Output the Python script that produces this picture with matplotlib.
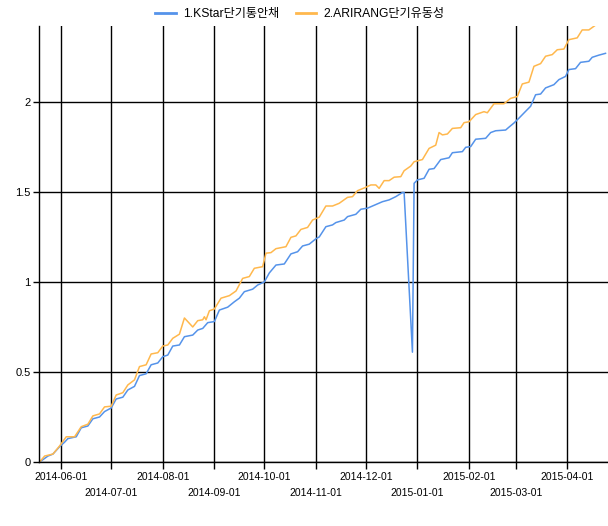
import matplotlib
matplotlib.use("Agg")
import matplotlib.pyplot as plt
import pandas as pd

plt.rcParams['font.family'] = ['Liberation Sans', 'Noto Sans CJK KR', 'DejaVu Sans']

kstar_dates = [
    "2014-05-19", "2014-05-24", "2014-05-27", "2014-05-31", "2014-06-03", "2014-06-05",
    "2014-06-10", "2014-06-13", "2014-06-17", "2014-06-20", "2014-06-24", "2014-06-27",
    "2014-07-01", "2014-07-04", "2014-07-08", "2014-07-11", "2014-07-15", "2014-07-18",
    "2014-07-22", "2014-07-25", "2014-07-29", "2014-08-01", "2014-08-04", "2014-08-07",
    "2014-08-11", "2014-08-14", "2014-08-19", "2014-08-22", "2014-08-25", "2014-08-28",
    "2014-09-01", "2014-09-04", "2014-09-09", "2014-09-13", "2014-09-16", "2014-09-19",
    "2014-09-24", "2014-09-27", "2014-10-01", "2014-10-04", "2014-10-08", "2014-10-13",
    "2014-10-17", "2014-10-21", "2014-10-24", "2014-10-28", "2014-11-01", "2014-11-03",
    "2014-11-07", "2014-11-11", "2014-11-13", "2014-11-18", "2014-11-20", "2014-11-25",
    "2014-11-28", "2014-12-02", "2014-12-05", "2014-12-11", "2014-12-15", "2014-12-19",
    "2014-12-23", "2014-12-24", "2014-12-29", "2014-12-30", "2015-01-01", "2015-01-05",
    "2015-01-08", "2015-01-11", "2015-01-15", "2015-01-20", "2015-01-22", "2015-01-28",
    "2015-01-30", "2015-02-02", "2015-02-05", "2015-02-11", "2015-02-14", "2015-02-17",
    "2015-02-23", "2015-02-25", "2015-02-28", "2015-03-03", "2015-03-07", "2015-03-10",
    "2015-03-13", "2015-03-16", "2015-03-19", "2015-03-24", "2015-03-27", "2015-03-31",
    "2015-04-02", "2015-04-06", "2015-04-09", "2015-04-14", "2015-04-16", "2015-04-20",
    "2015-04-24",
]
kstar = [
    0.0, 0.033, 0.044, 0.085, 0.11, 0.13,
    0.14, 0.19, 0.20, 0.24, 0.25, 0.28,
    0.30, 0.35, 0.36, 0.40, 0.42, 0.48,
    0.49, 0.54, 0.55, 0.585, 0.594, 0.644,
    0.65, 0.696, 0.705, 0.733, 0.742, 0.774,
    0.78, 0.844, 0.86, 0.89, 0.91, 0.946,
    0.96, 0.983, 1.0, 1.05, 1.094, 1.10,
    1.156, 1.168, 1.20, 1.21, 1.24, 1.25,
    1.307, 1.317, 1.33, 1.344, 1.363, 1.376,
    1.404, 1.41, 1.422, 1.446, 1.456, 1.474,
    1.497, 1.497, 0.61, 1.548, 1.567, 1.576,
    1.626, 1.63, 1.68, 1.69, 1.718, 1.724,
    1.748, 1.752, 1.793, 1.798, 1.83, 1.84,
    1.844, 1.86, 1.883, 1.91, 1.948, 1.976,
    2.04, 2.044, 2.078, 2.096, 2.124, 2.142,
    2.18, 2.185, 2.22, 2.226, 2.248, 2.26,
    2.27,
]

arirang_dates = [
    "2014-05-19", "2014-05-22", "2014-05-27", "2014-05-31", "2014-06-04", "2014-06-09",
    "2014-06-13", "2014-06-17", "2014-06-20", "2014-06-24", "2014-06-27", "2014-07-01",
    "2014-07-04", "2014-07-08", "2014-07-11", "2014-07-15", "2014-07-18", "2014-07-22",
    "2014-07-25", "2014-07-29", "2014-08-01", "2014-08-04", "2014-08-07", "2014-08-11",
    "2014-08-14", "2014-08-19", "2014-08-22", "2014-08-25", "2014-08-26", "2014-08-27",
    "2014-08-29", "2014-09-01", "2014-09-05", "2014-09-10", "2014-09-14", "2014-09-18",
    "2014-09-22", "2014-09-25", "2014-09-30", "2014-10-02", "2014-10-05", "2014-10-08",
    "2014-10-14", "2014-10-17", "2014-10-20", "2014-10-23", "2014-10-27", "2014-10-30",
    "2014-11-03", "2014-11-07", "2014-11-11", "2014-11-15", "2014-11-20", "2014-11-23",
    "2014-11-26", "2014-12-01", "2014-12-04", "2014-12-07", "2014-12-09", "2014-12-12",
    "2014-12-15", "2014-12-18", "2014-12-22", "2014-12-24", "2014-12-28", "2014-12-30",
    "2015-01-04", "2015-01-08", "2015-01-12", "2015-01-14", "2015-01-16", "2015-01-19",
    "2015-01-22", "2015-01-27", "2015-01-29", "2015-02-01", "2015-02-05", "2015-02-10",
    "2015-02-12", "2015-02-16", "2015-02-22", "2015-02-26", "2015-03-02", "2015-03-05",
    "2015-03-09", "2015-03-12", "2015-03-16", "2015-03-19", "2015-03-23", "2015-03-26",
    "2015-03-30", "2015-04-02", "2015-04-07", "2015-04-10", "2015-04-14", "2015-04-17",
    "2015-04-20", "2015-04-24",
]
arirang = [
    0.0, 0.033, 0.044, 0.089, 0.14, 0.14,
    0.196, 0.21, 0.256, 0.267, 0.306, 0.31,
    0.372, 0.385, 0.428, 0.456, 0.53, 0.54,
    0.60, 0.607, 0.644, 0.65, 0.687, 0.71,
    0.80, 0.75, 0.785, 0.79, 0.807, 0.79,
    0.84, 0.85, 0.91, 0.924, 0.95, 1.02,
    1.03, 1.076, 1.085, 1.16, 1.163, 1.185,
    1.196, 1.248, 1.256, 1.292, 1.303, 1.344,
    1.36, 1.422, 1.422, 1.437, 1.47, 1.474,
    1.507, 1.526, 1.539, 1.539, 1.52, 1.563,
    1.563, 1.582, 1.585, 1.618, 1.644, 1.668,
    1.68, 1.742, 1.76, 1.83, 1.817, 1.822,
    1.853, 1.857, 1.885, 1.89, 1.93, 1.946,
    1.94, 1.99, 1.99, 2.02, 2.03, 2.10,
    2.11, 2.198, 2.213, 2.254, 2.263, 2.29,
    2.294, 2.346, 2.356, 2.40, 2.40, 2.42,
    2.44, 2.46,
]

major_months = ["2014-06-01", "2014-08-01", "2014-10-01", "2014-12-01", "2015-02-01", "2015-04-01"]
minor_months = ["2014-07-01", "2014-09-01", "2014-11-01", "2015-01-01", "2015-03-01"]
y_ticks = [0, 0.5, 1, 1.5, 2]
y_labels = ["0", "0.5", "1", "1.5", "2"]

fig = plt.figure(figsize=(6.08, 5.26), dpi=100)
ax = fig.add_axes([0.0638, 0.1217, 0.9362, 0.8289])

ax.plot(pd.to_datetime(kstar_dates), kstar, color="#5593ea", lw=1.1, label="1.KStar단기통안채")
ax.plot(pd.to_datetime(arirang_dates), arirang, color="#ffb84d", lw=1.1, label="2.ARIRANG단기유동성")

ax.set_xlim(pd.Timestamp("2014-05-18 12:00"), pd.Timestamp("2015-04-25 12:00"))
ax.set_ylim(0, 2.422)

ax.set_xticks(pd.to_datetime(major_months))
ax.set_xticklabels(major_months)
ax.set_xticks(pd.to_datetime(minor_months), minor=True)
ax.set_xticklabels(minor_months, minor=True)
ax.set_yticks(y_ticks)
ax.set_yticklabels(y_labels)

ax.tick_params(axis="x", which="major", length=5, width=1, pad=2, labelsize=7.5, colors="black")
ax.tick_params(axis="x", which="minor", length=5, width=1, pad=13.5, labelsize=7.5, colors="black")
ax.tick_params(axis="y", length=4, width=1, pad=2, labelsize=8, colors="black")

ax.grid(True, which="both", axis="x", color="black", lw=1)
ax.grid(True, which="major", axis="y", color="black", lw=1)
ax.set_axisbelow(True)

for s in ["top", "right"]:
    ax.spines[s].set_visible(False)
for s in ["left", "bottom"]:
    ax.spines[s].set_color("black")
    ax.spines[s].set_linewidth(1)

leg = fig.legend(loc="upper center", bbox_to_anchor=(0.493, 1.005), ncol=2, frameon=False,
                 fontsize=8.7, handlelength=1.7, columnspacing=1.4, handletextpad=0.55)
for h in leg.get_lines():
    h.set_linewidth(2)

fig.savefig("out.png", dpi=100)
